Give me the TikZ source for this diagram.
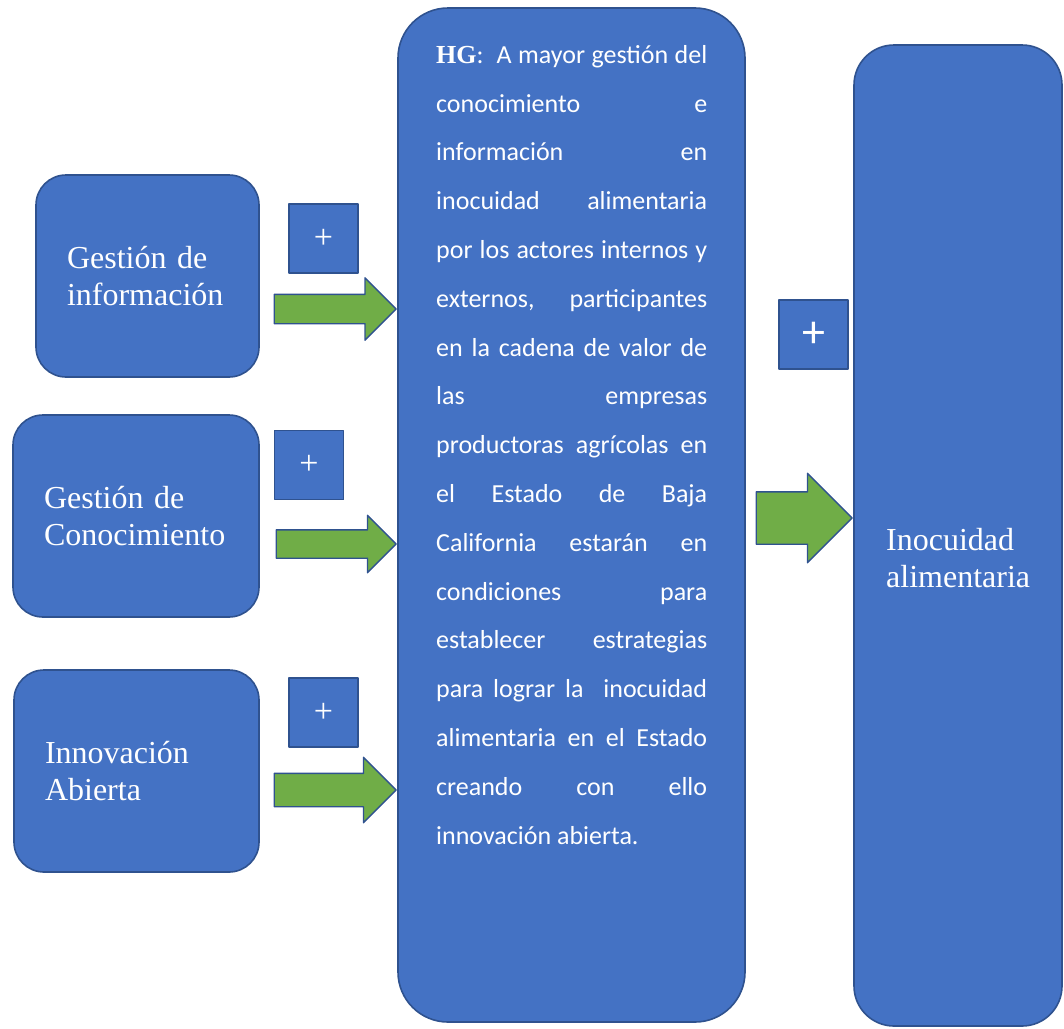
\documentclass[tikz,border=0pt]{standalone}
\usepackage{fontspec}
\setmainfont{Liberation Serif}
\newfontfamily\calfont{Carlito}
\usetikzlibrary{shapes.arrows}
\definecolor{boxblue}{HTML}{4472C4}
\definecolor{edgeblue}{HTML}{2F528F}
\definecolor{arrgreen}{HTML}{70AD47}
\begin{document}
\begin{tikzpicture}[x=1pt,y=-1pt, line join=round,
	box/.style={draw=edgeblue, fill=boxblue, line width=1.6pt, text=white, rounded corners=30pt,
		inner xsep=31pt, inner ysep=0pt, align=left, minimum height=202pt,
		font=\fontsize{32}{37}\selectfont},
	plusbox/.style={draw=edgeblue, fill=boxblue, line width=1.6pt, text=white,
		minimum size=69pt, inner sep=0pt, font=\fontsize{34}{34}\selectfont},
	garrow/.style={single arrow, draw=edgeblue, fill=arrgreen, line width=1.4pt,
		inner xsep=0pt, anchor=tip}]
	\useasboundingbox (0,0) rectangle (1064,1028);
	% boxes on the left
	\node[box, text width=161pt] (gi) at (147.5,276) {Gestión de\\información};
	\node[box, text width=184pt] (gc) at (136,516) {Gestión de\\Conocimiento};
	\node[box, text width=183pt] (ia) at (136.5,771) {Innovación\\Abierta};
	% hypothesis and result
	\node[draw=edgeblue, fill=boxblue, line width=1.6pt, rounded corners=50pt,
		minimum width=347pt, minimum height=1014pt] (hg) at (571.5,515) {};
	\node[draw=edgeblue, fill=boxblue, line width=1.6pt, rounded corners=40pt,
		minimum width=208pt, minimum height=981pt] (inoc) at (958,535.5) {};
	\node[anchor=north west, inner sep=0pt, text width=271pt, align=justify, text=white,
		font=\calfont\fontsize{26}{48.8}\selectfont] (hgtxt) at (436,45)
		{{\rmfamily\bfseries HG}:\ \ A mayor gestión del\linebreak
		conocimiento e\linebreak información en\linebreak inocuidad alimentaria\linebreak
		por los actores internos y\linebreak externos, participantes\linebreak
		en la cadena de valor de\linebreak las empresas\linebreak
		productoras agrícolas en\linebreak el Estado de Baja\linebreak
		California estarán en\linebreak condiciones para\linebreak
		establecer estrategias\linebreak para lograr la\ \ inocuidad\linebreak
		alimentaria en el Estado\linebreak creando con ello\linebreak
		innovación abierta.};
	\node[anchor=north west, inner sep=0pt, align=left, text=white,
		font=\fontsize{32}{37}\selectfont] (inoctxt) at (886,528) {Inocuidad\\alimentaria};
	% plus signs
	\node[plusbox] (p1) at (323.5,238.5) {+};
	\node[plusbox] (p2) at (309,465) {+};
	\node[plusbox] (p3) at (323.5,712.5) {+};
	\node[plusbox, font=\calfont\fontsize{46}{46}\selectfont] (p4) at (813.5,334.5) {+};
	% green arrows
	\node[garrow, minimum height=122pt, inner ysep=14pt, single arrow head extend=16.5pt] (a1) at (hg.west |- 0,309) {};
	\node[garrow, minimum height=120pt, inner ysep=13.5pt, single arrow head extend=14.5pt] (a2) at (hg.west |- 0,544) {};
	\node[garrow, minimum height=122pt, inner ysep=16pt, single arrow head extend=16pt] (a3) at (hg.west |- 0,790) {};
	\node[garrow, minimum height=96pt, inner ysep=25.5pt, single arrow head extend=18.5pt] (a4) at (inoc.west |- 0,518) {};
\end{tikzpicture}
\end{document}
